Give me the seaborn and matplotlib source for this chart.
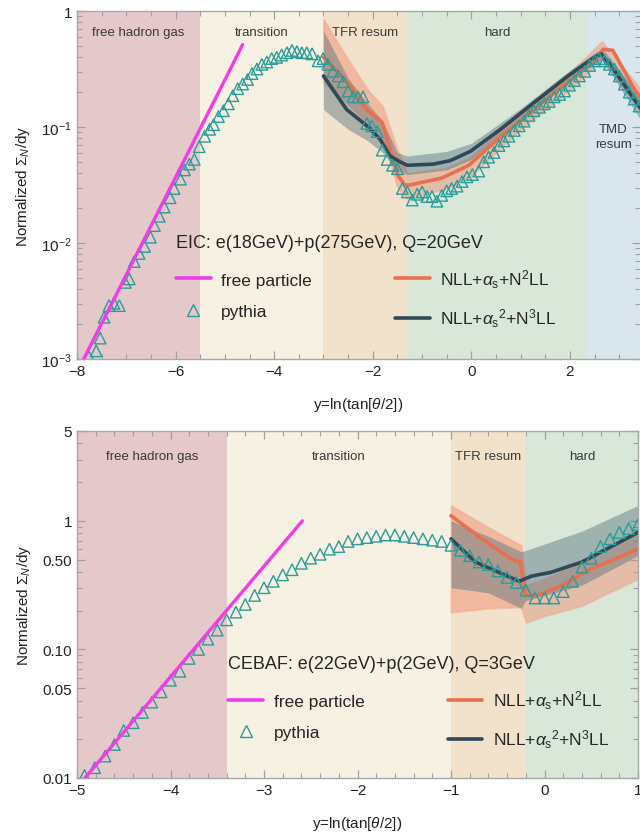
import numpy as np
import pandas as pd
import matplotlib
matplotlib.use("Agg")
import matplotlib.pyplot as plt
import seaborn as sns
from matplotlib.lines import Line2D
from matplotlib.ticker import FixedLocator, FixedFormatter, MultipleLocator, NullFormatter

# ---------------- DATA (y stored as log10) ----------------
# EIC panel
eic_regions_edges = [-8.0, -5.5, -3.0, -1.3, 2.35, 3.42]
eic_regions_names = ["free hadron gas", "transition", "TFR resum", "hard", "TMD\nresum"]
eic_free_x = [-7.9, -4.64]
eic_free_log10 = [-3.03, -0.29]
eic_pythia_x = [-7.76, -7.61, -7.53, -7.45, -7.35, -7.25, -7.14, -7.02, -6.94, -6.84, -6.74, -6.63,
                -6.51, -6.43, -6.33, -6.23, -6.11, -6.03, -5.90, -5.82, -5.72, -5.62, -5.52, -5.41,
                -5.31, -5.23, -5.13, -5.03, -4.93, -4.84, -4.74, -4.64, -4.54, -4.45, -4.35, -4.25,
                -4.15, -4.05, -3.95, -3.85, -3.74, -3.64, -3.54, -3.44, -3.34, -3.23, -3.11, -3.01,
                -2.91, -2.81, -2.70, -2.60, -2.50, -2.40, -2.30, -2.20, -2.12, -2.02, -1.91, -1.81,
                -1.71, -1.60, -1.50, -1.40, -1.30, -1.20, -1.10, -1.00, -0.90, -0.80, -0.70, -0.60,
                -0.50, -0.40, -0.29, -0.19, -0.09, 0.02, 0.15, 0.25, 0.35, 0.46, 0.56, 0.66,
                0.76, 0.87, 0.97, 1.07, 1.17, 1.27, 1.38, 1.48, 1.58, 1.68, 1.79, 1.89,
                1.99, 2.09, 2.19, 2.30, 2.40, 2.50, 2.60, 2.70, 2.80, 2.90, 3.00, 3.10,
                3.20, 3.30, 3.40]
eic_pythia_log10 = [-2.98, -2.93, -2.82, -2.64, -2.54, -2.52, -2.54, -2.34, -2.31, -2.16, -2.09, -2.03,
                    -1.95, -1.85, -1.77, -1.69, -1.61, -1.53, -1.45, -1.37, -1.32, -1.28, -1.17, -1.08,
                    -1.02, -0.98, -0.91, -0.86, -0.80, -0.73, -0.67, -0.63, -0.59, -0.54, -0.50, -0.46,
                    -0.44, -0.41, -0.40, -0.38, -0.36, -0.34, -0.35, -0.36, -0.36, -0.37, -0.43, -0.41,
                    -0.46, -0.52, -0.56, -0.61, -0.69, -0.74, -0.74, -0.74, -0.97, -0.99, -1.04, -1.20,
                    -1.28, -1.33, -1.36, -1.53, -1.56, -1.63, -1.58, -1.56, -1.60, -1.60, -1.64, -1.59,
                    -1.55, -1.53, -1.51, -1.47, -1.43, -1.41, -1.38, -1.30, -1.26, -1.22, -1.16, -1.12,
                    -1.08, -1.03, -0.99, -0.95, -0.90, -0.86, -0.83, -0.80, -0.78, -0.74, -0.72, -0.69,
                    -0.64, -0.60, -0.56, -0.52, -0.47, -0.43, -0.41, -0.43, -0.46, -0.50, -0.56, -0.63,
                    -0.70, -0.76, -0.82]
eic_n2ll_x = [-3.0, -2.5, -2.12, -1.81, -1.65, -1.49, -1.35, -1.25, -0.6, -0.05, 0.6, 1.27, 1.96,
              2.49, 2.67, 2.87, 3.3, 3.45]
eic_n2ll_log10 = [-0.40, -0.62, -0.85, -0.96, -1.19, -1.42, -1.50, -1.50, -1.44, -1.33, -1.08, -0.85,
                  -0.61, -0.44, -0.33, -0.34, -0.67, -0.76]
eic_n3ll_x = [-3.0, -2.53, -2.12, -1.86, -1.65, -1.45, -1.3, -0.77, -0.43, -0.02, 0.59, 1.27, 1.96,
              2.49, 2.63, 2.83, 3.3, 3.45]
eic_n3ll_log10 = [-0.56, -0.85, -0.99, -1.10, -1.25, -1.30, -1.33, -1.32, -1.29, -1.21, -1.02, -0.79,
                  -0.56, -0.40, -0.37, -0.47, -0.76, -0.85]
eic_band_x = [-3.0, -2.5, -2.1, -1.8, -1.5, -1.3, -0.5, 0.0, 1.0, 2.0, 2.65, 3.45]
eic_n2ll_hi = [-0.07, -0.42, -0.68, -0.82, -1.20, -1.40, -1.35, -1.25, -0.87, -0.53, -0.26, -0.68]
eic_n2ll_lo = [-0.62, -0.80, -0.98, -1.08, -1.52, -1.62, -1.53, -1.42, -1.02, -0.68, -0.42, -0.86]
eic_n3ll_hi = [-0.17, -0.58, -0.80, -0.95, -1.22, -1.25, -1.21, -1.14, -0.84, -0.51, -0.32, -0.76]
eic_n3ll_lo = [-0.85, -1.02, -1.12, -1.22, -1.38, -1.41, -1.37, -1.28, -0.92, -0.59, -0.42, -0.95]

# CEBAF panel
ceb_regions_edges = [-5.0, -3.4, -1.0, -0.2, 1.0]
ceb_regions_names = ["free hadron gas", "transition", "TFR resum", "hard"]
ceb_free_x = [-4.95, -2.59]
ceb_free_log10 = [-2.03, 0.0]
ceb_pythia_x = [-4.92, -4.81, -4.7, -4.6, -4.5, -4.4, -4.3, -4.2, -4.1, -4.0, -3.9, -3.8, -3.7, -3.6,
                -3.5, -3.4, -3.3, -3.2, -3.1, -3.0, -2.9, -2.8, -2.7, -2.6, -2.5, -2.4, -2.3, -2.2,
                -2.1, -2.0, -1.9, -1.8, -1.7, -1.6, -1.5, -1.4, -1.3, -1.2, -1.1, -1.0, -0.9, -0.8,
                -0.7, -0.6, -0.5, -0.4, -0.3, -0.2, -0.1, 0.0, 0.1, 0.2, 0.3, 0.4, 0.5, 0.6, 0.7,
                0.8, 0.9, 1.0]
ceb_pythia_log10 = [-1.98, -1.92, -1.83, -1.74, -1.63, -1.57, -1.49, -1.41, -1.33, -1.24, -1.17, -1.07,
                    -1.00, -0.92, -0.85, -0.77, -0.71, -0.65, -0.58, -0.52, -0.47, -0.42, -0.38, -0.33,
                    -0.29, -0.26, -0.22, -0.20, -0.16, -0.14, -0.13, -0.12, -0.11, -0.11, -0.12, -0.13,
                    -0.14, -0.15, -0.16, -0.19, -0.23, -0.27, -0.32, -0.34, -0.39, -0.44, -0.48, -0.54,
                    -0.60, -0.60, -0.60, -0.55, -0.47, -0.36, -0.29, -0.20, -0.14, -0.09, -0.06, -0.03]
ceb_n2ll_x = [-1.0, -0.67, -0.35, -0.26, -0.2, -0.08, 0.17, 0.45, 1.0]
ceb_n2ll_log10 = [0.04, -0.14, -0.30, -0.32, -0.58, -0.58, -0.51, -0.39, -0.22]
ceb_n3ll_x = [-1.0, -0.74, -0.49, -0.27, -0.14, 0.07, 0.4, 1.0]
ceb_n3ll_log10 = [-0.14, -0.32, -0.40, -0.47, -0.43, -0.40, -0.32, -0.09]
ceb_band_x = [-1.0, -0.6, -0.25, -0.2, 0.0, 0.4, 1.0]
ceb_n2ll_hi = [0.12, -0.05, -0.19, -0.50, -0.45, -0.33, -0.09]
ceb_n2ll_lo = [-0.71, -0.68, -0.67, -0.79, -0.74, -0.66, -0.45]
ceb_n3ll_hi = [0.00, -0.12, -0.24, -0.23, -0.18, -0.08, 0.12]
ceb_n3ll_lo = [-0.52, -0.56, -0.68, -0.62, -0.58, -0.50, -0.27]

# ---------------- STYLE ----------------
region_colors = ["#e5c9ca", "#f7f1e3", "#f2e2cc", "#d9e7d9", "#d9e6ee"]
c_free = "#f23ce8"
c_pythia = "#2a9d98"
c_n2ll = "#e9704f"
c_n3ll = "#2f4957"
c_n2ll_band = "#f08a6c"
c_n3ll_band = "#4d6b78"

sns.set_theme(style="ticks")
plt.rcParams["font.family"] = ["Liberation Sans", "DejaVu Sans"]
plt.rcParams["mathtext.fontset"] = "custom"
plt.rcParams["mathtext.rm"] = "Liberation Sans"
plt.rcParams["mathtext.it"] = "Liberation Sans:italic"
plt.rcParams["mathtext.bf"] = "Liberation Sans:bold"
plt.rcParams["axes.unicode_minus"] = True

fig = plt.figure(figsize=(6.4, 8.37), dpi=100)
ax1 = fig.add_axes([77 / 640, 1 - 360 / 837, 563 / 640, 348 / 837])
ax2 = fig.add_axes([77 / 640, 1 - 779 / 837, 561 / 640, 347 / 837])

labels = ["free particle", "pythia", r"NLL+$\alpha_{\rm s}$+N$^{2}$LL",
          r"NLL+$\alpha_{\rm s}{}^{2}$+N$^{3}$LL"]


def p10(v):
    return np.power(10.0, np.asarray(v, dtype=float))


def panel(ax, edges, names, name_y, free_x, free_l, py_x, py_l, n2_x, n2_l, n3_x, n3_l,
          bx, n2hi, n2lo, n3hi, n3lo, title, leg_anchor):
    for i, nm in enumerate(names):
        ax.axvspan(edges[i], edges[i + 1], color=region_colors[i], lw=0, zorder=0)
        ax.text((edges[i] + edges[i + 1]) / 2, name_y[i], nm, transform=ax.get_xaxis_transform(),
                ha="center", va="center", fontsize=9.5, color="#3a3a3a", linespacing=1.3, zorder=6)
    bxv = np.asarray(bx)
    ax.fill_between(bxv, p10(n2lo), p10(n2hi), color=c_n2ll_band, alpha=0.45, lw=1.5,
                    edgecolor="#f3a58f", zorder=2)
    ax.fill_between(bxv, p10(n3lo), p10(n3hi), color=c_n3ll_band, alpha=0.42, lw=0, zorder=2)
    sns.lineplot(x=n2_x, y=p10(n2_l), ax=ax, color=c_n2ll, lw=2.6, zorder=3, sort=False)
    sns.lineplot(x=n3_x, y=p10(n3_l), ax=ax, color=c_n3ll, lw=2.6, zorder=3, sort=False)
    df = pd.DataFrame({"x": py_x, "y": p10(py_l)})
    sns.scatterplot(data=df, x="x", y="y", ax=ax, marker="^", s=68, facecolor="none",
                    edgecolor=c_pythia, linewidth=1.0, zorder=4)
    sns.lineplot(x=free_x, y=p10(free_l), ax=ax, color=c_free, lw=2.4, zorder=5, sort=False)

    handles = [Line2D([], [], color=c_free, lw=2.6),
               Line2D([], [], ls="none", marker="^", mfc="none", mec=c_pythia, ms=8.5, mew=1.0),
               Line2D([], [], color=c_n2ll, lw=2.6),
               Line2D([], [], color=c_n3ll, lw=2.6)]
    leg = ax.legend(handles, labels, ncol=2, loc="upper left", bbox_to_anchor=leg_anchor,
                    frameon=False, fontsize=12.5, title=title, title_fontsize=13,
                    alignment="left", handlelength=2.0, handletextpad=0.6, columnspacing=4.8,
                    labelspacing=0.95, borderpad=0, borderaxespad=0)
    leg.set_zorder(7)
    ax.set_yscale("log")
    ax.set_xlabel(r"y=ln(tan[$\theta$/2])", fontsize=11, color="#222222", labelpad=12)
    ax.set_ylabel(r"Normalized $\Sigma_{N}$/dy", fontsize=11, color="#222222", labelpad=7)
    for s in ax.spines.values():
        s.set_color("#a8a8a8")
        s.set_linewidth(1.0)
    ax.tick_params(which="both", direction="in", top=True, right=True, colors="#a0a0a0",
                   labelcolor="#222222", labelsize=11)
    ax.tick_params(which="major", length=6, width=0.9)
    ax.tick_params(which="minor", length=3.5, width=0.8)


panel(ax1, eic_regions_edges, eic_regions_names, [0.94, 0.94, 0.94, 0.94, 0.64],
      eic_free_x, eic_free_log10, eic_pythia_x, eic_pythia_log10,
      eic_n2ll_x, eic_n2ll_log10, eic_n3ll_x, eic_n3ll_log10,
      eic_band_x, eic_n2ll_hi, eic_n2ll_lo, eic_n3ll_hi, eic_n3ll_lo,
      "EIC: e(18GeV)+p(275GeV), Q=20GeV", (0.176, 0.36))
ax1.set_xlim(-8, 3.42)
ax1.set_ylim(1e-3, 1)
ax1.xaxis.set_major_locator(MultipleLocator(2))
ax1.xaxis.set_minor_locator(MultipleLocator(0.5))
ax1.yaxis.set_major_locator(FixedLocator([1e-3, 1e-2, 1e-1, 1]))
ax1.yaxis.set_major_formatter(FixedFormatter([r"$10^{-3}$", r"$10^{-2}$", r"$10^{-1}$", "1"]))
ax1.yaxis.set_minor_locator(FixedLocator([m * 10.0 ** e for e in (-3, -2, -1) for m in range(2, 10)]))
ax1.yaxis.set_minor_formatter(NullFormatter())
ax1.spines["right"].set_visible(False)

panel(ax2, ceb_regions_edges, ceb_regions_names, [0.928, 0.928, 0.928, 0.928],
      ceb_free_x, ceb_free_log10, ceb_pythia_x, ceb_pythia_log10,
      ceb_n2ll_x, ceb_n2ll_log10, ceb_n3ll_x, ceb_n3ll_log10,
      ceb_band_x, ceb_n2ll_hi, ceb_n2ll_lo, ceb_n3ll_hi, ceb_n3ll_lo,
      "CEBAF: e(22GeV)+p(2GeV), Q=3GeV", (0.27, 0.355))
ax2.set_xlim(-5, 1)
ax2.set_ylim(0.01, 5)
ax2.xaxis.set_major_locator(MultipleLocator(1))
ax2.xaxis.set_minor_locator(MultipleLocator(0.2))
ax2.yaxis.set_major_locator(FixedLocator([0.01, 0.05, 0.1, 0.5, 1, 5]))
ax2.yaxis.set_major_formatter(FixedFormatter(["0.01", "0.05", "0.10", "0.50", "1", "5"]))
ax2.yaxis.set_minor_locator(FixedLocator([0.02, 0.03, 0.04, 0.06, 0.07, 0.08, 0.09,
                                          0.2, 0.3, 0.4, 0.6, 0.7, 0.8, 0.9, 2, 3, 4]))
ax2.yaxis.set_minor_formatter(NullFormatter())

fig.savefig("out.png", dpi=100)
